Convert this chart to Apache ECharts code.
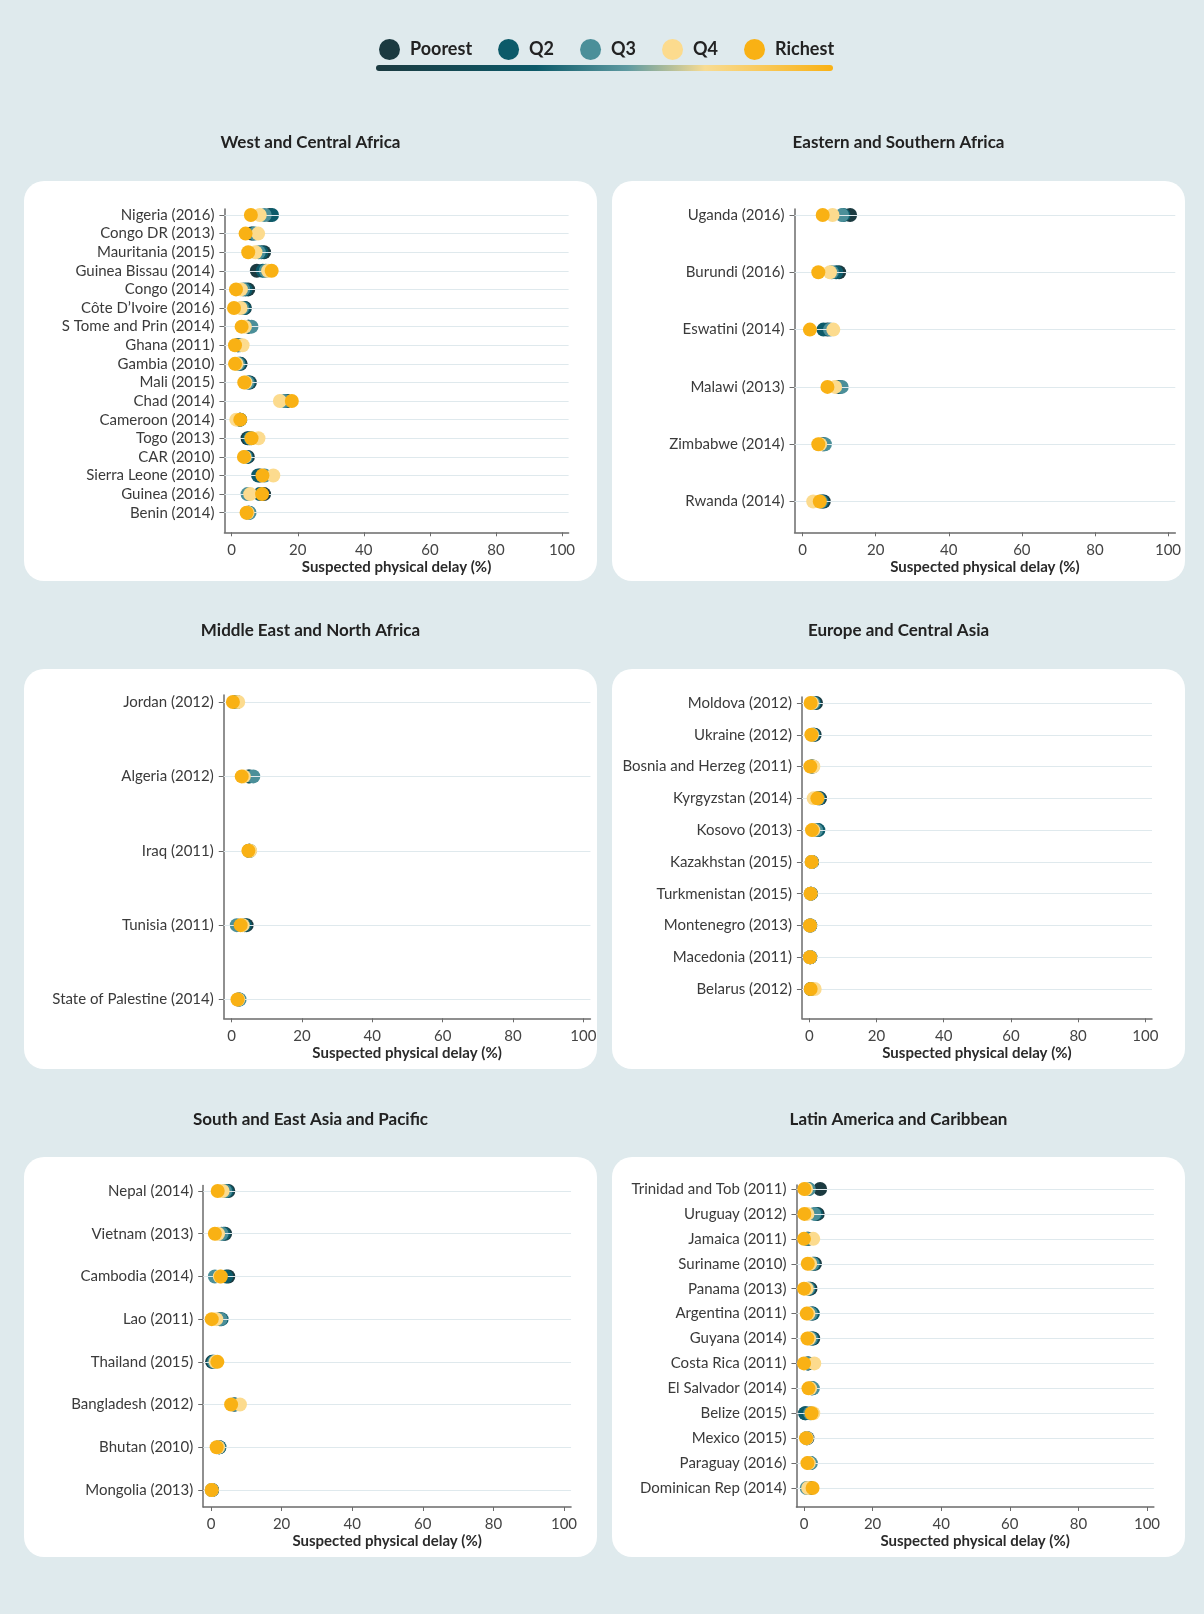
<!DOCTYPE html>
<html><head><meta charset="utf-8">
<script src="https://cdn.jsdelivr.net/npm/echarts@6/dist/echarts.min.js"></script>
<style>html,body{margin:0;padding:0;background:#dfeaed}#c{width:1204px;height:1614px}</style>
</head><body><div id="c"></div><script>
// ---------- DATA ----------
const quintiles = ['Poorest', 'Q2', 'Q3', 'Q4', 'Richest'];
const xTicks = [0, 20, 40, 60, 80, 100];
const axisTitle = 'Suspected physical delay (%)';

const wcaCountries = ['Nigeria (2016)','Congo DR (2013)','Mauritania (2015)','Guinea Bissau (2014)','Congo (2014)','Côte D’Ivoire (2016)','S Tome and Prin (2014)','Ghana (2011)','Gambia (2010)','Mali (2015)','Chad (2014)','Cameroon (2014)','Togo (2013)','CAR (2010)','Sierra Leone (2010)','Guinea (2016)','Benin (2014)'];
const wcaPoorest = [11.5, 6.0, 9.8, 7.6, 5.0, 4.0, 5.0, 1.8, 2.7, 5.5, 16.8, 2.5, 4.8, 4.9, 8.5, 9.8, 5.0];
const wcaQ2      = [12.2, 6.5, 9.0, 9.4, 4.2, 3.8, 5.2, 2.0, 2.4, 5.2, 16.5, 2.6, 5.3, 4.5, 8.0, 8.5, 5.2];
const wcaQ3      = [10.0, 7.0, 8.2, 10.3, 3.5, 3.2, 6.0, 2.5, 2.0, 4.8, 16.0, 2.4, 5.8, 4.2, 10.0, 4.8, 5.4];
const wcaQ4      = [8.5, 8.0, 7.2, 11.0, 2.8, 2.7, 4.0, 3.3, 1.5, 4.2, 14.6, 1.4, 8.1, 3.9, 12.6, 5.6, 4.8];
const wcaRichest = [5.8, 4.2, 5.0, 12.1, 1.3, 0.7, 3.0, 1.0, 1.0, 3.8, 18.2, 2.6, 6.0, 3.7, 9.3, 9.2, 4.5];

const esaCountries = ['Uganda (2016)','Burundi (2016)','Eswatini (2014)','Malawi (2013)','Zimbabwe (2014)','Rwanda (2014)'];
const esaPoorest = [13.0, 10.0, 6.8, 9.8, 5.5, 5.8];
const esaQ2      = [11.2, 9.2, 5.7, 10.2, 5.8, 5.4];
const esaQ3      = [10.8, 8.0, 7.5, 10.7, 6.1, 5.0];
const esaQ4      = [8.2, 7.5, 8.4, 8.9, 4.8, 2.9];
const esaRichest = [5.5, 4.3, 2.0, 6.8, 4.3, 4.7];

const menaCountries = ['Jordan (2012)','Algeria (2012)','Iraq (2011)','Tunisia (2011)','State of Palestine (2014)'];
const menaPoorest = [1.5, 4.8, 5.0, 4.3, 2.0];
const menaQ2      = [1.3, 5.2, 5.1, 3.8, 2.1];
const menaQ3      = [1.2, 6.2, 5.2, 1.5, 2.3];
const menaQ4      = [1.9, 3.5, 5.3, 3.2, 1.9];
const menaRichest = [0.4, 2.9, 4.8, 2.6, 1.7];

const ecaCountries = ['Moldova (2012)','Ukraine (2012)','Bosnia and Herzeg (2011)','Kyrgyzstan (2014)','Kosovo (2013)','Kazakhstan (2015)','Turkmenistan (2015)','Montenegro (2013)','Macedonia (2011)','Belarus (2012)'];
const ecaPoorest = [2.0, 1.6, 1.0, 3.2, 2.3, 0.8, 0.5, 0.3, 0.3, 0.6];
const ecaQ2      = [1.5, 1.3, 0.8, 2.9, 2.7, 0.8, 0.5, 0.3, 0.3, 0.5];
const ecaQ3      = [1.2, 1.0, 0.7, 2.6, 2.0, 0.7, 0.4, 0.2, 0.2, 0.5];
const ecaQ4      = [0.8, 0.8, 1.2, 1.3, 1.2, 0.7, 0.4, 0.2, 0.2, 1.6];
const ecaRichest = [0.4, 0.6, 0.3, 2.4, 0.8, 0.7, 0.4, 0.2, 0.2, 0.4];

const seapCountries = ['Nepal (2014)','Vietnam (2013)','Cambodia (2014)','Lao (2011)','Thailand (2015)','Bangladesh (2012)','Bhutan (2010)','Mongolia (2013)'];
const seapPoorest = [4.9, 4.0, 4.9, 2.5, 0.3, 6.6, 2.3, 0.3];
const seapQ2      = [4.5, 3.6, 4.3, 3.0, 0.6, 6.8, 2.4, 0.3];
const seapQ3      = [4.0, 3.0, 1.1, 2.7, 0.9, 6.5, 2.2, 0.2];
const seapQ4      = [3.3, 2.0, 2.5, 1.5, 1.3, 8.2, 2.0, 0.2];
const seapRichest = [1.9, 1.1, 2.8, 0.2, 1.8, 5.7, 1.6, 0.2];

const lacCountries = ['Trinidad and Tob (2011)','Uruguay (2012)','Jamaica (2011)','Suriname (2010)','Panama (2013)','Argentina (2011)','Guyana (2014)','Costa Rica (2011)','El Salvador (2014)','Belize (2015)','Mexico (2015)','Paraguay (2016)','Dominican Rep (2014)'];
const lacPoorest = [4.7, 4.0, 1.3, 3.2, 1.9, 2.4, 2.7, 1.3, 2.2, 0.5, 1.0, 1.6, 1.8];
const lacQ2      = [1.2, 3.5, 1.0, 2.8, 1.5, 2.6, 2.4, 1.1, 2.4, 0.3, 0.8, 1.8, 1.5];
const lacQ3      = [1.4, 3.0, 0.8, 2.5, 1.2, 2.0, 2.0, 0.9, 2.6, 1.8, 0.8, 2.0, 0.8];
const lacQ4      = [0.6, 1.0, 2.7, 1.8, 0.8, 1.3, 1.5, 3.0, 1.8, 2.7, 0.8, 1.4, 1.2];
const lacRichest = [0.1, 0.1, 0.0, 1.1, 0.0, 0.8, 1.0, 0.0, 1.3, 2.2, 0.6, 1.0, 2.5];

// ---------- STYLE / LAYOUT ----------
const colors = {Poorest:'#1b3a40', Q2:'#0c5a69', Q3:'#4b8f99', Q4:'#fcdb8e', Richest:'#f9b114'};
const FONT = 'Lato, "Open Sans", sans-serif';
const XMIN = -2.2, XMAX = 102;

const panels = [
  {title:'West and Central Africa', names:wcaCountries, vals:[wcaPoorest,wcaQ2,wcaQ3,wcaQ4,wcaRichest],
   box:[24,181,573,400], titleY:143, x0:231.7, ppu:3.303, top:209, row0:215, rowN:512.7, axisY:532.3},
  {title:'Eastern and Southern Africa', names:esaCountries, vals:[esaPoorest,esaQ2,esaQ3,esaQ4,esaRichest],
   box:[612,181,573,400], titleY:143, x0:802.6, ppu:3.654, top:209, row0:215, rowN:501.5, axisY:532.3},
  {title:'Middle East and North Africa', names:menaCountries, vals:[menaPoorest,menaQ2,menaQ3,menaQ4,menaRichest],
   box:[24,669,573,400], titleY:631, x0:231.5, ppu:3.519, top:695, row0:702, rowN:999.5, axisY:1018.3},
  {title:'Europe and Central Asia', names:ecaCountries, vals:[ecaPoorest,ecaQ2,ecaQ3,ecaQ4,ecaRichest],
   box:[612,669,573,400], titleY:631, x0:809.3, ppu:3.36, top:697, row0:703, rowN:989, axisY:1018.3},
  {title:'South and East Asia and Pacific', names:seapCountries, vals:[seapPoorest,seapQ2,seapQ3,seapQ4,seapRichest],
   box:[24,1157,573,400], titleY:1120, x0:211, ppu:3.53, top:1185.5, row0:1191, rowN:1490, axisY:1507},
  {title:'Latin America and Caribbean', names:lacCountries, vals:[lacPoorest,lacQ2,lacQ3,lacQ4,lacRichest],
   box:[612,1157,573,400], titleY:1120, x0:804, ppu:3.43, top:1185, row0:1189, rowN:1488, axisY:1507}
];

const grids = [], xAxes = [], yAxes = [], series = [], graphics = [];

panels.forEach((p, pi) => {
  const n = p.names.length;
  const step = (p.rowN - p.row0) / (n - 1);
  const ymin = -(p.row0 - p.top) / step;
  const ymax = (n - 1) + (p.axisY - p.rowN) / step;
  const idx = p.names.map((_, i) => i);
  grids.push({left: p.x0 + XMIN * p.ppu, top: p.top, width: (XMAX - XMIN) * p.ppu, height: p.axisY - p.top,
              containLabel:false, outerBoundsMode:'none'});
  xAxes.push({gridIndex: pi, type:'value', min: XMIN, max: XMAX,
    axisLine:{show:true, onZero:false, lineStyle:{color:'#6b6b6b', width:1.5}},
    axisTick:{show:true, customValues: xTicks, length:4, lineStyle:{color:'#6b6b6b'}},
    axisLabel:{customValues: xTicks, fontSize:15, color:'#444', margin:10, fontFamily:FONT},
    splitLine:{show:false},
    name: axisTitle, nameLocation:'middle', nameGap:27,
    nameTextStyle:{fontWeight:'bold', fontSize:15, color:'#2a2a2a', fontFamily:FONT}});
  yAxes.push({gridIndex: pi, type:'value', inverse:true, min: ymin, max: ymax,
    axisLine:{show:true, onZero:false, lineStyle:{color:'#6b6b6b', width:1.5}},
    axisTick:{show:true, customValues: idx, length:5, lineStyle:{color:'#6b6b6b'}},
    axisLabel:{customValues: idx, formatter: v => p.names[Math.round(v)], fontSize:15, color:'#3a3a3a', margin:10, fontFamily:FONT},
    splitLine:{show:false}});
  series.push({type:'scatter', name:'_grid'+pi, xAxisIndex:pi, yAxisIndex:pi, data:[], z:1, silent:true,
    markLine:{silent:true, symbol:'none', animation:false, label:{show:false},
      lineStyle:{color:'#dfe9ed', width:1, type:'solid'},
      data: idx.map(i => ({yAxis: i}))}});
  quintiles.forEach((q, qi) => {
    series.push({type:'scatter', name:q, xAxisIndex:pi, yAxisIndex:pi, symbol:'circle', symbolSize:14,
      itemStyle:{color: colors[q], opacity:1}, z:2 + qi,
      data: p.vals[qi].map((v, i) => [v, i])});
  });
  graphics.push({type:'rect', z:-10, shape:{x:p.box[0], y:p.box[1], width:p.box[2], height:p.box[3], r:20},
    style:{fill:'#ffffff'}});
  graphics.push({type:'text', z:10, x: p.box[0] + p.box[2] / 2, y: p.titleY,
    style:{text:p.title, fill:'#222', font:'bold 17px ' + FONT, align:'center', verticalAlign:'middle'}});
});

graphics.push({type:'rect', z:5, shape:{x:376, y:65, width:457, height:6, r:3},
  style:{fill: new echarts.graphic.LinearGradient(0, 0, 1, 0, [
    {offset:0, color:'#1b3a40'}, {offset:0.35, color:'#0c5a69'}, {offset:0.55, color:'#5e9aa1'},
    {offset:0.72, color:'#f8dc93'}, {offset:1, color:'#f9b114'}])}});

const chart = echarts.init(document.getElementById('c'), null, {renderer:'canvas'});
chart.setOption({
  backgroundColor:'#dfeaed',
  animation:false,
  legend:{data: quintiles, icon:'circle', itemWidth:21, itemHeight:21, itemGap:26, left:374, top:34,
    selectedMode:false, textStyle:{fontFamily:FONT, fontWeight:'bold', fontSize:18, color:'#222', padding:[0,0,0,5]}},
  grid: grids, xAxis: xAxes, yAxis: yAxes, series: series,
  graphic: graphics
});
</script></body></html>
